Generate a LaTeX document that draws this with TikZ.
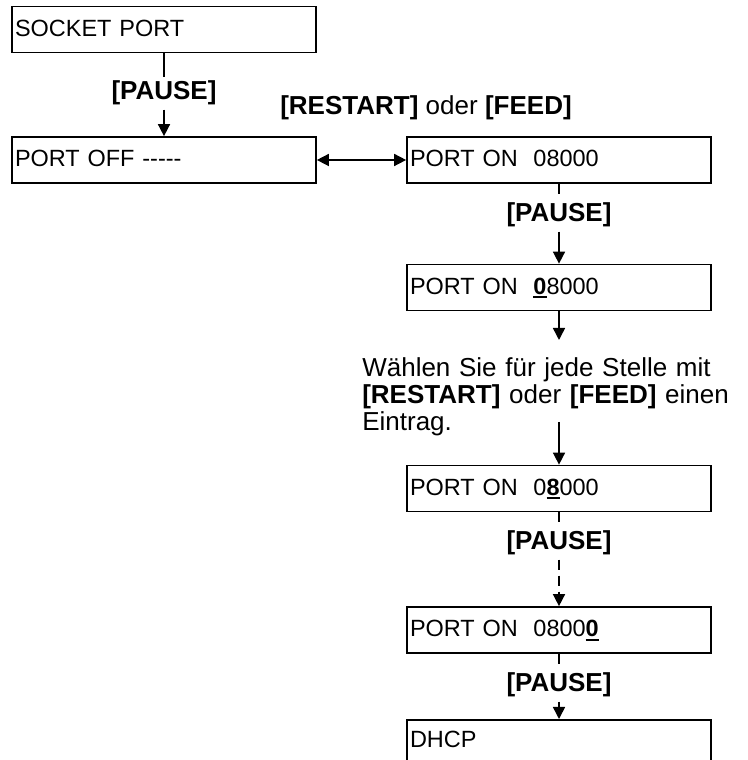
\documentclass[tikz,border=0pt]{standalone}
\usepackage{fontspec}
\setmainfont{Liberation Sans}
\usepackage{tikz}
\usetikzlibrary{arrows.meta,positioning}
\newcommand{\curdigit}[1]{\setbox0\hbox{\textbf{#1}}\rlap{\rule[-3pt]{\wd0}{1.4pt}}\box0\relax}

\begin{document}
\begin{tikzpicture}[
  font=\fontsize{18.5}{19.2}\selectfont,
  box/.style={rectangle,draw,line width=1.2pt,font=\fontsize{16.7}{19}\selectfont,text width=7.45cm,inner xsep=0.075cm,inner ysep=0pt,text height=0.74cm,text depth=0.41cm,align=left},
  key/.style={font=\fontsize{18.5}{19.2}\selectfont\bfseries,inner sep=0.1cm},
  conn/.style={line width=1.1pt},
  arr/.style={conn,-{Triangle[length=0.3cm,width=0.3cm]}},
  dots/.style={conn,dash pattern=on 0.25cm off 0.15cm},
]
\useasboundingbox (0,0) rectangle (18.675,19);

% Menu entries
\node[box] (sock) at (4.1,18.2625) {SOCKET PORT};
\node[box] (off) at (4.1,15) {PORT OFF \mbox{-}\mbox{-}\mbox{-}\mbox{-}\mbox{-}};
\node[box] (on1) at (13.975,15) {PORT ON\ \ 08000};
\node[box] (on2) at (13.975,11.8125) {PORT ON\ \ \curdigit{0}8000};
\node[box] (on3) at (13.975,6.7875) {PORT ON\ \ 0\curdigit{8}000};
\node[box] (on4) at (13.975,3.25) {PORT ON\ \ 0800\curdigit{0}};
\node[box,anchor=north,text height=0.68cm,text depth=1.2cm] (dhcp) at (13.975,1.025) {DHCP};

% Keys
\node[key,anchor=base] (p1) at (4.1,16.5) {[PAUSE]};
\node[key,anchor=base] (p2) at (13.975,13.45) {[PAUSE]};
\node[key,anchor=base] (p3) at (13.975,5.25) {[PAUSE]};
\node[key,anchor=base] (p4) at (13.975,1.7) {[PAUSE]};
\node[anchor=base,inner sep=0pt] (swap) at (10.65,16.125) {\textbf{[RESTART]} oder \textbf{[FEED]}};

% Hint
\node[anchor=base west,text width=9.6cm,align=left,inner sep=0pt] (hint) at (9.05,9.575) {Wählen Sie für jede Stelle mit\\ \textbf{[RESTART]} oder \textbf{[FEED]} einen\\ Eintrag.};
\coordinate (hintin) at (13.975,10.5);
\coordinate (hintout) at (13.975,8.45);

% Flow
\draw[conn] (sock) -- (p1);
\draw[arr] (p1) -- (off);
\draw[conn,{Triangle[length=0.3cm,width=0.3cm]}-{Triangle[length=0.3cm,width=0.3cm]}] (off) -- (on1);
\draw[dots] (on1) -- (p2);
\draw[arr] (p2) -- (on2);
\draw[arr] (on2) -- (hintin);
\draw[arr] (hintout) -- (on3);
\draw[dots] (on3) -- (p3);
\draw[arr,dots] (p3) -- (on4);
\draw[dots] (on4) -- (p4);
\draw[arr] (p4) -- (dhcp);

\end{tikzpicture}
\end{document}
